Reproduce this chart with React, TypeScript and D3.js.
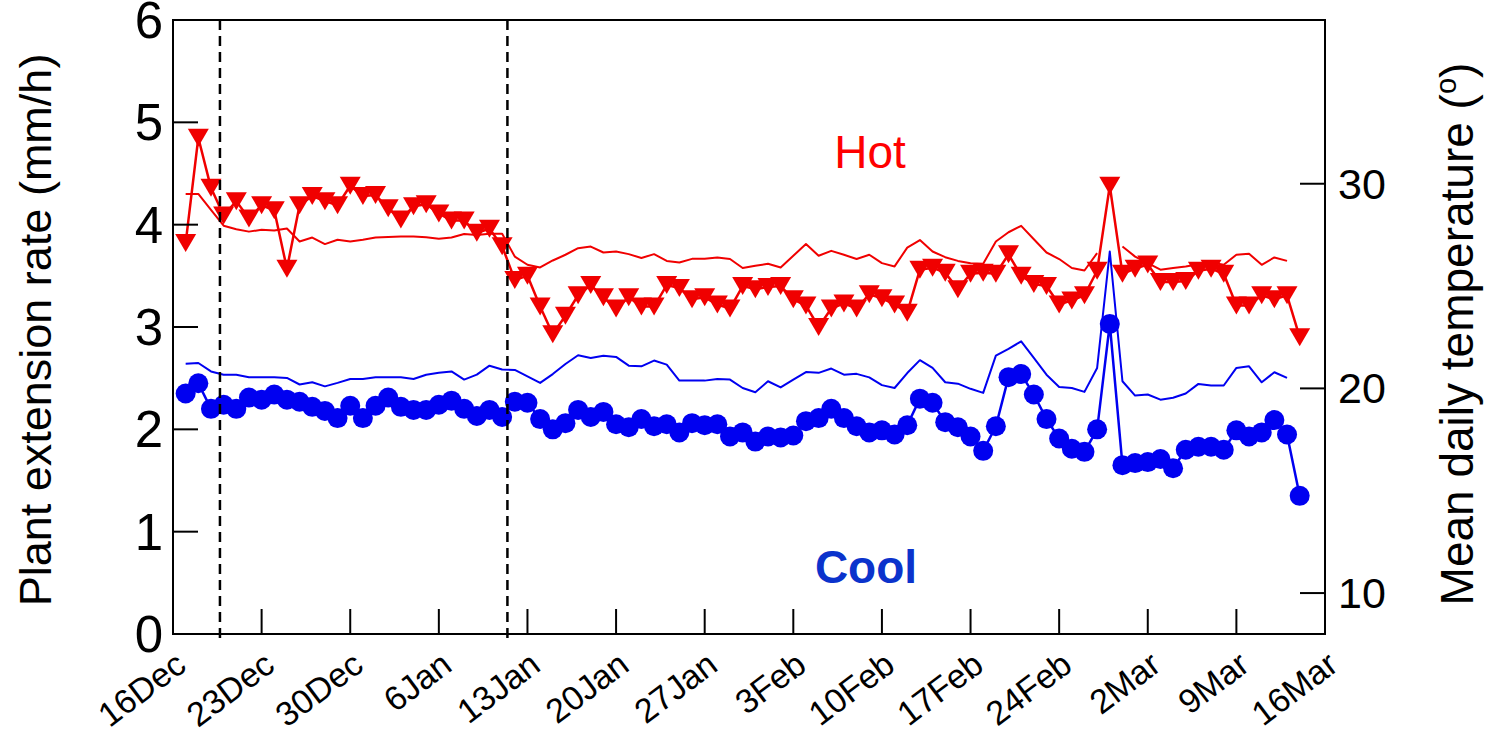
import React from 'react';
import * as d3 from 'd3';

const W = 1489;
const H = 737;
const M = { left: 173, right: 1325, top: 20, bottom: 634 };

const FONT = '"Liberation Sans", Arial, Helvetica, sans-serif';
const RED = '#f00000';
const BLUE = '#0000f0';

// Axis span and the first daily sample
const startDate = new Date(2007, 11, 16);
const endDate = new Date(2008, 2, 16);
const firstSample = new Date(2007, 11, 17);

// Dates at which the treatment changed (dashed markers)
const treatmentChanges = [new Date(2007, 11, 19, 17), new Date(2008, 0, 11, 10)];

// Daily plant extension rate (mm/h), hot treatment
const hotRate = [
  3.82, 4.85, 4.36, 4.09, 4.23, 4.06, 4.19, 4.14, 3.57, 4.19,
  4.28, 4.23, 4.19, 4.38, 4.28, 4.29, 4.16, 4.05, 4.18, 4.20,
  4.11, 4.04, 4.04, 3.92, 3.96, 3.79, 3.46, 3.50, 3.20, 2.93,
  3.11, 3.31, 3.41, 3.29, 3.18, 3.29, 3.20, 3.20, 3.41, 3.38,
  3.27, 3.29, 3.22, 3.18, 3.40, 3.37, 3.39, 3.40, 3.27, 3.21,
  3.00, 3.18, 3.23, 3.18, 3.32, 3.28, 3.22, 3.14, 3.56, 3.58,
  3.53, 3.37, 3.52, 3.53, 3.52, 3.71, 3.50, 3.42, 3.40, 3.22,
  3.26, 3.31, 3.55, 4.38, 3.52, 3.57, 3.61, 3.44, 3.44, 3.45,
  3.55, 3.57, 3.52, 3.21, 3.21, 3.31, 3.27, 3.31, 2.90,
];

// Daily plant extension rate (mm/h), cool treatment
const coolRate = [
  2.35, 2.45, 2.20, 2.24, 2.20, 2.31, 2.29, 2.34, 2.29, 2.27,
  2.22, 2.18, 2.11, 2.23, 2.11, 2.23, 2.31, 2.22, 2.19, 2.19,
  2.24, 2.28, 2.20, 2.13, 2.19, 2.12, 2.27, 2.26, 2.10, 2.00,
  2.06, 2.19, 2.12, 2.17, 2.05, 2.02, 2.10, 2.03, 2.05, 1.97,
  2.06, 2.04, 2.05, 1.93, 1.97, 1.88, 1.93, 1.92, 1.94, 2.08,
  2.11, 2.20, 2.11, 2.03, 1.97, 1.99, 1.95, 2.04, 2.30, 2.26,
  2.07, 2.02, 1.93, 1.79, 2.03, 2.51, 2.54, 2.34, 2.10, 1.91,
  1.81, 1.78, 2.00, 3.03, 1.65, 1.67, 1.68, 1.71, 1.62, 1.80,
  1.83, 1.83, 1.80, 1.99, 1.93, 1.97, 2.09, 1.95, 1.35,
];

// Mean daily temperature (°C), hot treatment (null = no record)
const hotTemp: (number | null)[] = [
  29.50, 29.50, 28.72, 27.95, 27.78, 27.66, 27.75, 27.71, 27.81, 27.18,
  27.37, 27.05, 27.26, 27.18, 27.26, 27.37, 27.40, 27.42, 27.42, 27.39,
  27.31, 27.37, 27.54, 27.50, 27.56, 27.56, 26.44, 26.04, 25.91, 26.25,
  26.53, 26.85, 26.93, 26.64, 26.69, 26.56, 26.37, 26.56, 26.23, 26.15,
  26.33, 26.33, 26.40, 26.32, 25.88, 25.99, 26.09, 25.91, 26.48, 27.05,
  26.48, 26.72, 26.53, 26.32, 26.53, 26.12, 25.96, 26.88, 27.25, 26.69,
  26.41, 26.23, 26.12, 26.09, 27.18, 27.63, 27.94, 27.29, 26.64, 26.32,
  25.88, 25.76, 26.61, null, 26.93, 26.44, 26.12, 25.80, 25.88, 25.96,
  26.07, 26.15, 26.04, 26.53, 26.58, 26.04, 26.40, 26.23, null,
];

// Mean daily temperature (°C), cool treatment (null = no record)
const coolTemp: (number | null)[] = [
  21.21, 21.24, 20.83, 20.67, 20.67, 20.54, 20.54, 20.54, 20.51, 20.19,
  20.30, 20.10, 20.27, 20.46, 20.46, 20.54, 20.54, 20.54, 20.46, 20.67,
  20.76, 20.83, 20.43, 20.67, 21.11, 20.92, 20.90, 20.59, 20.27, 20.70,
  21.19, 21.62, 21.49, 21.60, 21.54, 21.11, 21.08, 21.36, 21.16, 20.38,
  20.38, 20.38, 20.46, 20.43, 20.02, 19.81, 20.35, 20.05, 20.43, 20.80,
  20.76, 20.97, 20.67, 20.71, 20.54, 20.16, 20.02, 20.75, 21.38, 21.00,
  20.30, 20.23, 19.98, 19.78, 21.60, 21.93, 22.30, 21.49, 20.67, 20.07,
  20.02, 19.83, 21.00, 26.69, 20.35, 19.65, 19.70, 19.45, 19.54, 19.75,
  20.22, 20.14, 20.14, 21.00, 21.08, 20.30, 20.79, 20.51, null,
];

const rateTicks = [0, 1, 2, 3, 4, 5, 6];
const tempTicks = [10, 20, 30];

const triangle = 'M-10.5,-9L10.5,-9L0,9Z';

export default function App() {
  const dates = d3.timeDay.range(firstSample, d3.timeDay.offset(firstSample, hotRate.length));
  const x = d3.scaleTime().domain([startDate, endDate]).range([M.left, M.right]);
  const yL = d3.scaleLinear().domain([0, 6]).range([M.bottom, M.top]);
  const yR = d3.scaleLinear().domain([8, 38]).range([M.bottom, M.top]);
  const xTicks = d3.timeDay.range(startDate, d3.timeDay.offset(endDate, 1), 7);
  const fmt = d3.timeFormat('%-d%b');

  const rateLine = d3
    .line<number>()
    .x((_, i) => x(dates[i]))
    .y((d) => yL(d));
  const tempLine = d3
    .line<number | null>()
    .defined((d) => d != null)
    .x((_, i) => x(dates[i]))
    .y((d) => yR(d as number));

  const tickLen = 25;

  return (
    <svg
      width={W}
      height={H}
      viewBox={`0 0 ${W} ${H}`}
      style={{ position: 'absolute', left: 0, top: 0, background: '#fff' }}
      fontFamily={FONT}
    >
      <rect x={0} y={0} width={W} height={H} fill="#fff" />

      {/* temperature traces */}
      <path d={tempLine(hotTemp) || ''} fill="none" stroke={RED} strokeWidth={2} strokeLinejoin="round" />
      <path d={tempLine(coolTemp) || ''} fill="none" stroke={BLUE} strokeWidth={2} strokeLinejoin="round" />

      {/* extension rate series */}
      <path d={rateLine(hotRate) || ''} fill="none" stroke={RED} strokeWidth={2.5} strokeLinejoin="round" />
      {hotRate.map((v, i) => (
        <path key={`h${i}`} d={triangle} transform={`translate(${x(dates[i])},${yL(v)})`} fill={RED} />
      ))}
      <path d={rateLine(coolRate) || ''} fill="none" stroke={BLUE} strokeWidth={2.5} strokeLinejoin="round" />
      {coolRate.map((v, i) => (
        <circle key={`c${i}`} cx={x(dates[i])} cy={yL(v)} r={10} fill={BLUE} />
      ))}

      {/* treatment change markers */}
      {treatmentChanges.map((d, i) => (
        <line
          key={`dash${i}`}
          x1={x(d)}
          x2={x(d)}
          y1={M.top}
          y2={M.bottom + 5}
          stroke="#000"
          strokeWidth={2.5}
          strokeDasharray="10,6"
        />
      ))}

      {/* frame */}
      <rect
        x={M.left}
        y={M.top}
        width={M.right - M.left}
        height={M.bottom - M.top}
        fill="none"
        stroke="#000"
        strokeWidth={2}
      />

      {/* left axis */}
      {rateTicks.map((t) => (
        <g key={`l${t}`}>
          <line x1={M.left} x2={M.left + tickLen} y1={yL(t)} y2={yL(t)} stroke="#000" strokeWidth={2} />
          <text
            x={M.left - 10}
            y={yL(t) + 18}
            textAnchor="end"
            fontSize={51}
            fill="#000"
          >
            {t}
          </text>
        </g>
      ))}

      {/* right axis */}
      {tempTicks.map((t) => (
        <g key={`r${t}`}>
          <line x1={M.right - tickLen} x2={M.right} y1={yR(t)} y2={yR(t)} stroke="#000" strokeWidth={2} />
          <text x={M.right + 13} y={yR(t) + 15} fontSize={43} fill="#000">
            {t}
          </text>
        </g>
      ))}

      {/* bottom axis */}
      {xTicks.map((d, i) => (
        <g key={`x${i}`}>
          <line x1={x(d)} x2={x(d)} y1={M.bottom} y2={M.bottom - tickLen} stroke="#000" strokeWidth={2} />
          <text
            transform={`translate(${x(d) + 15},${669}) rotate(-37)`}
            textAnchor="end"
            fontSize={34}
            fill="#000"
          >
            {fmt(d)}
          </text>
        </g>
      ))}

      {/* axis titles */}
      <text transform={`translate(51,330) rotate(-90)`} textAnchor="middle" fontSize={45} fill="#000">
        Plant extension rate (mm/h)
      </text>
      <text transform={`translate(1473,334) rotate(-90)`} textAnchor="middle" fontSize={46} fill="#000">
        Mean daily temperature (<tspan fontSize={29} dy={-17}>o</tspan>
        <tspan dy={17}>)</tspan>
      </text>

      {/* treatment labels */}
      <text x={870} y={168} textAnchor="middle" fontSize={46} fill="#ff0000">
        Hot
      </text>
      <text x={866} y={583} textAnchor="middle" fontSize={46} fontWeight="bold" fill="#0b33cc">
        Cool
      </text>
    </svg>
  );
}
